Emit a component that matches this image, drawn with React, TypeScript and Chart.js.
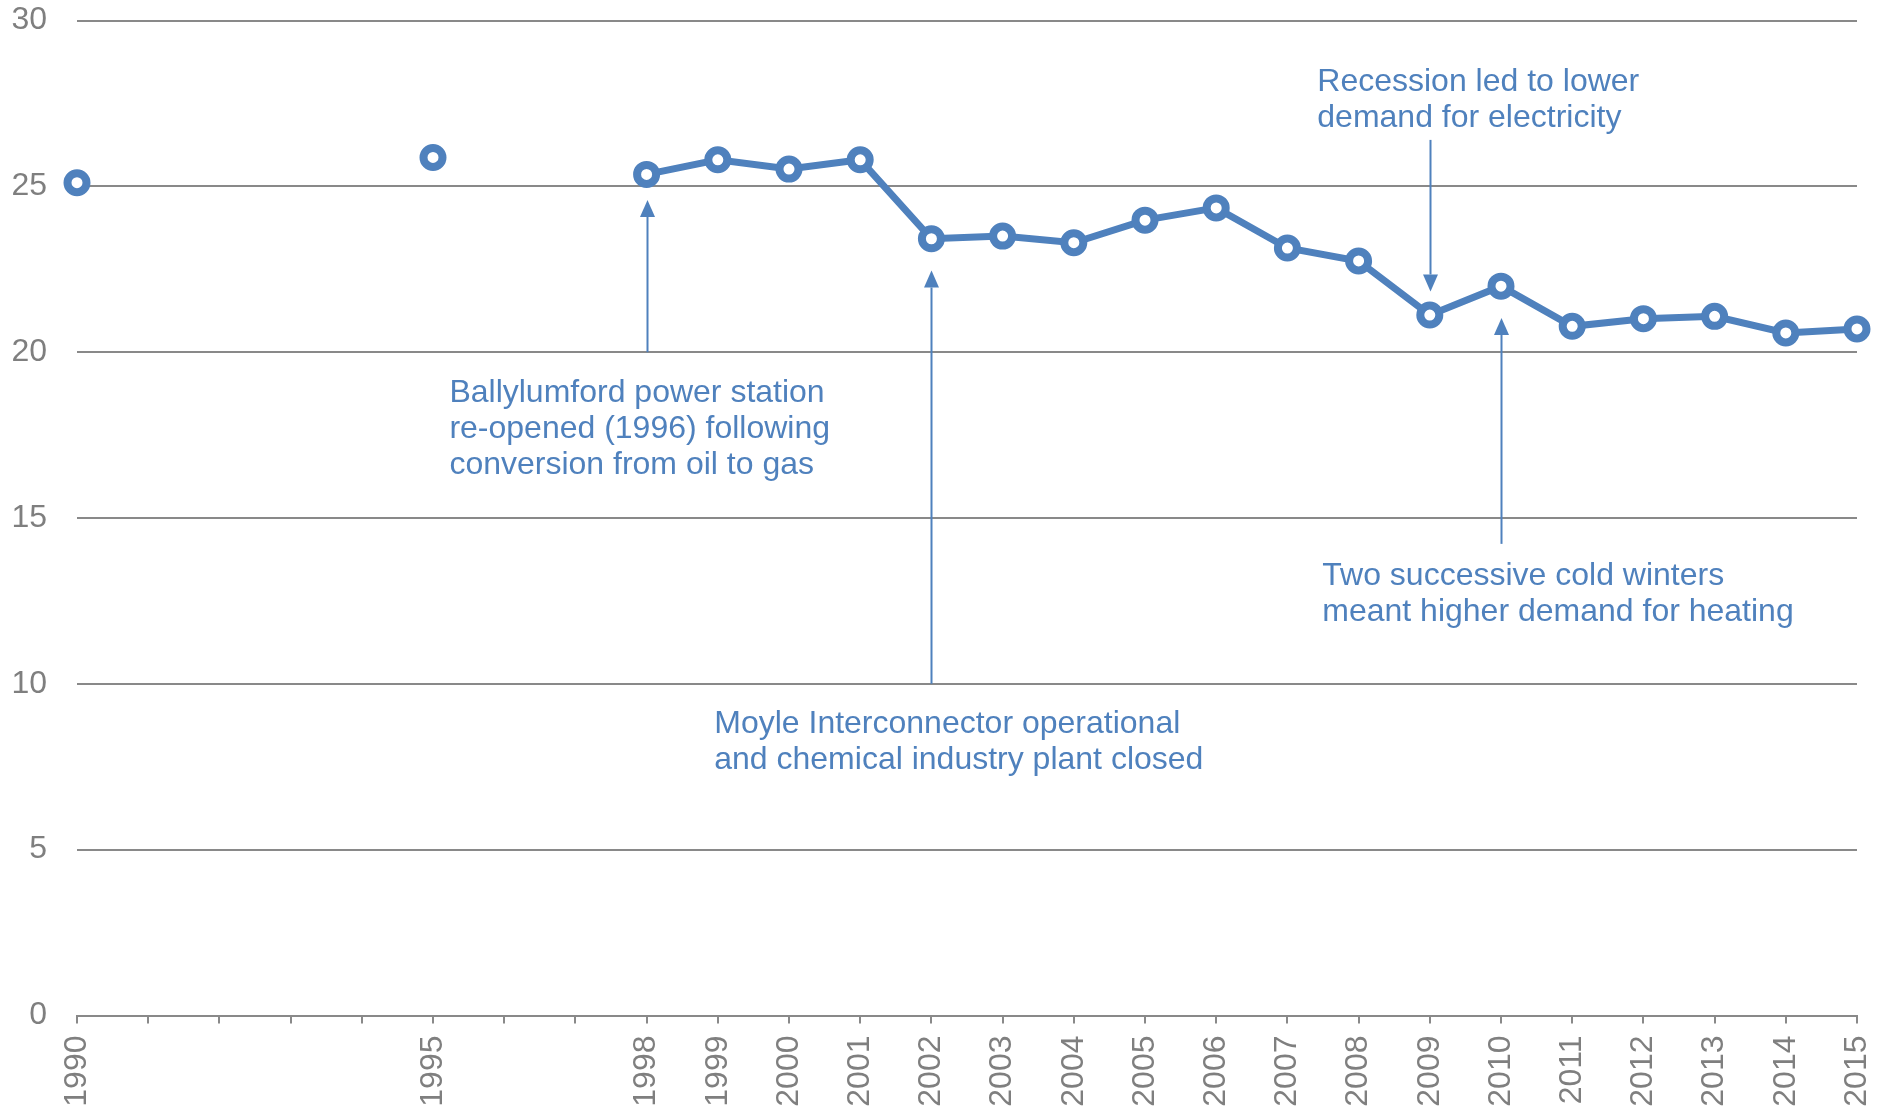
import React, { useEffect, useRef } from "react";
import { Chart, registerables } from "chart.js";

Chart.register(...registerables);

const years: string[] = [
  "1990", "1991", "1992", "1993", "1994", "1995", "1996", "1997", "1998", "1999",
  "2000", "2001", "2002", "2003", "2004", "2005", "2006", "2007", "2008", "2009",
  "2010", "2011", "2012", "2013", "2014", "2015",
];

const labelledYears: string[] = [
  "1990", "1995", "1998", "1999", "2000", "2001", "2002", "2003", "2004", "2005",
  "2006", "2007", "2008", "2009", "2010", "2011", "2012", "2013", "2014", "2015",
];

const values: (number | null)[] = [
  25.11, null, null, null, null, 25.87, null, null, 25.36, 25.8,
  25.52, 25.8, 23.42, 23.5, 23.3, 23.98, 24.35, 23.14, 22.75, 21.12,
  21.99, 20.78, 21.01, 21.08, 20.58, 20.7,
];

const yTicks: number[] = [0, 5, 10, 15, 20, 25, 30];

const noteTexts: string[][] = [
  ["Ballylumford power station", "re-opened (1996) following", "conversion from oil to gas"],
  ["Moyle Interconnector operational", "and chemical industry plant closed"],
  ["Recession led to lower", "demand for electricity"],
  ["Two successive cold winters", "meant higher demand for heating"],
];

const arrowYears: string[] = ["1998", "2002", "2009", "2010"];

const BLUE = "#4F81BD";
const GREY = "#898989";
const TEXT_GREY = "#7F7F7F";
const FONT = "'Liberation Sans', Arial, sans-serif";

// layout of annotations in axis units (category index offset, value)
const noteLayout = [
  { x: 5.23, y: 18.51 },
  { x: 8.95, y: 8.53 },
  { x: 17.42, y: 27.88 },
  { x: 17.49, y: 12.99 },
];
const arrowLayout = [
  { from: 20, to: 24.59 },
  { from: 10, to: 22.46 },
  { from: 26.4, to: 21.83 },
  { from: 14.22, to: 21.03 },
];

const notesPlugin = {
  id: "notes",
  afterDraw(chart: any) {
    const { ctx } = chart;
    const xs = chart.scales.x;
    const ys = chart.scales.y;
    ctx.save();
    ctx.strokeStyle = BLUE;
    ctx.fillStyle = BLUE;
    ctx.lineWidth = 2;
    arrowYears.forEach((yr, i) => {
      const px = Math.round(xs.getPixelForValue(years.indexOf(yr))) + 0.5;
      const y0 = ys.getPixelForValue(arrowLayout[i].from);
      const y1 = ys.getPixelForValue(arrowLayout[i].to);
      const dir = y1 > y0 ? 1 : -1;
      const headLen = 17;
      const halfW = 7.5;
      ctx.beginPath();
      ctx.moveTo(px, y0);
      ctx.lineTo(px, y1 - dir * headLen);
      ctx.stroke();
      ctx.beginPath();
      ctx.moveTo(px, y1);
      ctx.lineTo(px - halfW, y1 - dir * headLen);
      ctx.lineTo(px + halfW, y1 - dir * headLen);
      ctx.closePath();
      ctx.fill();
    });
    ctx.font = `32px ${FONT}`;
    ctx.textAlign = "left";
    ctx.textBaseline = "alphabetic";
    noteTexts.forEach((lines, i) => {
      const px = xs.getPixelForValue(noteLayout[i].x);
      const py = ys.getPixelForValue(noteLayout[i].y);
      lines.forEach((line, j) => {
        ctx.fillText(line, px, py + j * 36);
      });
    });
    ctx.restore();
  },
};

export default function App() {
  const ref = useRef<HTMLCanvasElement | null>(null);

  useEffect(() => {
    document.body.style.margin = "0";
    const canvas = ref.current;
    if (!canvas) return;
    const chart = new Chart(canvas, {
      type: "line",
      data: {
        labels: years,
        datasets: [
          {
            data: values,
            borderColor: BLUE,
            borderWidth: 7,
            pointRadius: 9.5,
            pointBorderWidth: 8,
            pointBackgroundColor: "#FFFFFF",
            pointBorderColor: BLUE,
            spanGaps: false,
            tension: 0,
          },
        ],
      },
      options: {
        responsive: false,
        animation: false,
        devicePixelRatio: 1,
        layout: { padding: { left: 0, right: 30, top: 20.5, bottom: 0 } },
        plugins: {
          legend: { display: false },
          tooltip: { enabled: false },
          title: { display: false },
        },
        scales: {
          x: {
            type: "category",
            offset: false,
            border: { display: true, color: GREY, width: 2 },
            grid: {
              display: true,
              drawOnChartArea: false,
              drawTicks: true,
              tickLength: 8,
              color: GREY,
              lineWidth: 2,
            },
            ticks: {
              autoSkip: false,
              maxRotation: 90,
              minRotation: 90,
              padding: 12,
              color: TEXT_GREY,
              font: { family: FONT, size: 32 },
              callback: (_v: any, idx: number) =>
                labelledYears.includes(years[idx]) ? years[idx] : "",
            },
            afterFit: (scale: any) => {
              scale.height = 94.5;
              scale.paddingLeft = 0;
              scale.paddingRight = 0;
            },
          },
          y: {
            min: 0,
            max: 30,
            border: { display: false },
            grid: {
              color: GREY,
              lineWidth: 2,
              drawTicks: false,
            },
            afterBuildTicks: (scale: any) => {
              scale.ticks = yTicks.map((v) => ({ value: v }));
            },
            ticks: {
              padding: 30,
              color: TEXT_GREY,
              font: { family: FONT, size: 32 },
            },
            afterFit: (scale: any) => {
              scale.width = 77;
              scale.paddingTop = 0;
              scale.paddingBottom = 0;
            },
          },
        },
      },
      plugins: [notesPlugin],
    });
    return () => chart.destroy();
  }, []);

  return (
    <canvas
      ref={ref}
      width={1887}
      height={1110}
      style={{ display: "block", width: "1887px", height: "1110px" }}
    />
  );
}
